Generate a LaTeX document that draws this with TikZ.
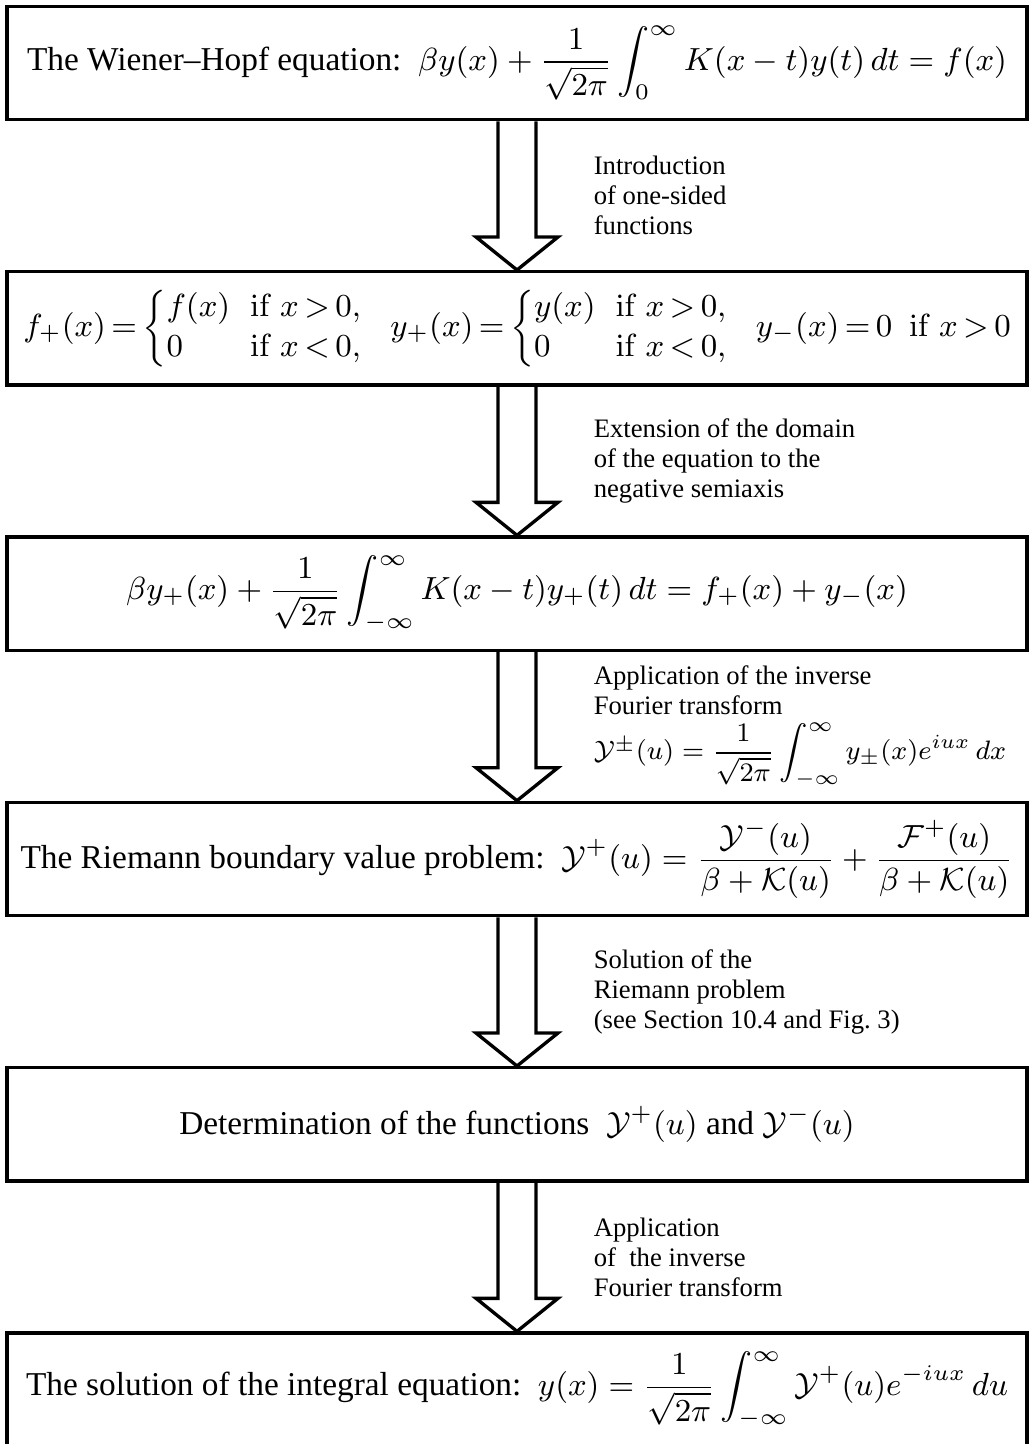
\RequirePackage{fix-cm}
\documentclass[tikz,border=0pt]{standalone}
\usepackage{amsmath,amssymb}
\usepackage[no-math]{fontspec}
\setmainfont{Liberation Serif}
\DeclareMathSizes{10}{9.6}{6.7}{5}
\usetikzlibrary{positioning,calc}

\begin{document}
\begin{tikzpicture}[
  box/.style={draw, line width=1pt, minimum width=306pt, minimum height=34pt, inner sep=2pt, align=center},
  lbl/.style={anchor=west, align=left, font=\fontsize{8}{9}\selectfont, xshift=19.5pt},
  hollow/.style={draw, line width=1pt, line join=miter, to path={
    ($(\tikztostart.south)+(-5.7pt,0)$) -- ($(\tikztotarget.north)+(-5.7pt,9.9pt)$)
    -- ($(\tikztotarget.north)+(-12.3pt,9.9pt)$) -- (\tikztotarget.north)
    -- ($(\tikztotarget.north)+(12.3pt,9.9pt)$) -- ($(\tikztotarget.north)+(5.7pt,9.9pt)$)
    -- ($(\tikztostart.south)+(5.7pt,0)$)}},
  node distance=44.6pt
]
  \useasboundingbox (0,0) rectangle (309.9pt,-433.2pt);

  \node[box] (wh) at (155.1pt,-18.9pt)
    {The Wiener--Hopf equation:\ \ $\displaystyle \beta y(x)+\frac{1}{\sqrt{2\pi}}\int_0^\infty K(x-t)y(t)\,dt=f(x)$};
  \node[box, below=of wh] (onesided)
    {$\thickmuskip=3mu
      f_+(x)=\left\{\begin{array}{@{}l@{\hspace{6pt}}l@{}} f(x) & \mathrm{if}\ x>0,\\ 0 & \mathrm{if}\ x<0,\end{array}\right.\hspace{6pt}
      y_+(x)=\left\{\begin{array}{@{}l@{\hspace{6pt}}l@{}} y(x) & \mathrm{if}\ x>0,\\ 0 & \mathrm{if}\ x<0,\end{array}\right.\hspace{6pt}
      y_-(x)=0\ \ \mathrm{if}\ x>0$};
  \node[box, below=of onesided] (ext)
    {$\displaystyle \beta y_+(x)+\frac{1}{\sqrt{2\pi}}\int_{-\infty}^{\infty}K(x-t)y_+(t)\,dt=f_+(x)+y_-(x)$};
  \node[box, below=of ext] (riemann)
    {The Riemann boundary value problem:\ \ $\displaystyle \mathcal{Y}^+(u)=\frac{\mathcal{Y}^-(u)}{\beta+\mathcal{K}(u)}+\frac{\mathcal{F}^+(u)}{\beta+\mathcal{K}(u)}$};
  \node[box, below=of riemann] (determ)
    {Determination of the functions\ \ $\mathcal{Y}^+(u)$ and $\mathcal{Y}^-(u)$};
  \node[box, below=of determ] (sol)
    {The solution of the integral equation:\ \ $\displaystyle y(x)=\frac{1}{\sqrt{2\pi}}\int_{-\infty}^{\infty}\mathcal{Y}^+(u)e^{-iux}\,du$};

  \draw[hollow] (wh) to (onesided);
  \draw[hollow] (onesided) to (ext);
  \draw[hollow] (ext) to (riemann);
  \draw[hollow] (riemann) to (determ);
  \draw[hollow] (determ) to (sol);

  \node[lbl] (l1) at ($(wh.south)!0.5!(onesided.north)$)
    {Introduction\\of one-sided\\functions};
  \node[lbl] (l2) at ($(onesided.south)!0.5!(ext.north)$)
    {Extension of the domain\\of the equation to the\\negative semiaxis};
  \node[lbl] (l3) at ($(ext.south)!0.5!(riemann.north)$)
    {Application of the inverse\\Fourier transform\\[1.5pt]
     $\mathcal{Y}^{\pm}(u)=\dfrac{1}{\sqrt{2\pi}}\displaystyle\int_{-\infty}^{\infty}y_{\pm}(x)e^{iux}\,dx$};
  \node[lbl] (l4) at ($(riemann.south)!0.5!(determ.north)$)
    {Solution of the\\Riemann problem\\(see Section 10.4 and Fig.~3)};
  \node[lbl] (l5) at ($(determ.south)!0.5!(sol.north)$)
    {Application\\of \ the inverse\\Fourier transform};
\end{tikzpicture}
\end{document}
